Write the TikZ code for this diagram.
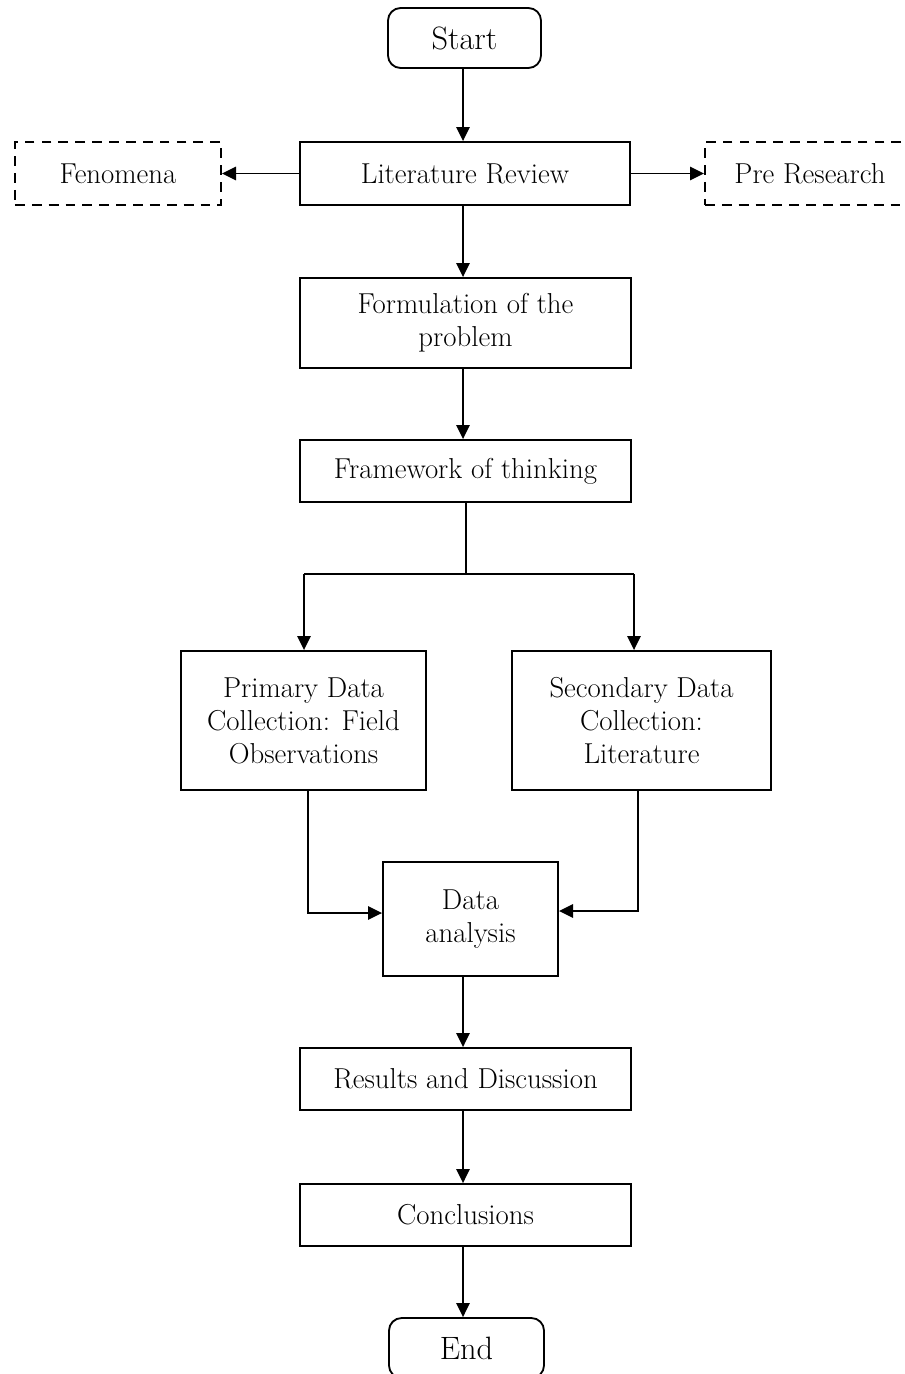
\documentclass[tikz,border=0pt]{standalone}
\usetikzlibrary{arrows.meta}
\begin{document}
\begin{tikzpicture}[x=0.025cm,y=-0.025cm,
  every node/.style={font=\fontsize{20.5}{23.4}\selectfont, align=center, inner sep=0pt},
  box/.style={draw, line width=1.3pt, rectangle},
  dbox/.style={draw, line width=1.3pt, rectangle, dashed, dash pattern=on 7pt off 5pt},
  term/.style={draw, line width=1.3pt, rectangle, rounded corners=9pt, font=\fontsize{23}{26}\selectfont},
  conn/.style={line width=1.3pt},
  arr/.style={line width=1.3pt, -{Triangle[length=10pt,width=9.5pt]}}]
\useasboundingbox (0,0) rectangle (904,1374);
\node[term, minimum width=3.825cm, minimum height=1.5cm] (start) at (464.5,38) {Start};
\node[box, minimum width=8.25cm, minimum height=1.575cm] (lit) at (465,173.5) {Literature Review};
\node[dbox, minimum width=5.15cm, minimum height=1.575cm] (fen) at (118,173.5) {Fenomena};
\node[dbox, minimum width=5.25cm, minimum height=1.575cm] (pre) at (810,173.5) {Pre Research};
\node[box, minimum width=8.275cm, minimum height=2.25cm] (form) at (465.5,323) {Formulation of the\\problem};
\node[box, minimum width=8.275cm, minimum height=1.55cm] (frame) at (465.5,471) {Framework of thinking};
\node[box, minimum width=6.125cm, minimum height=3.475cm] (prim) at (303.5,720.5) {Primary Data\\Collection: Field\\Observations};
\node[box, minimum width=6.475cm, minimum height=3.475cm] (sec) at (641.5,720.5) {Secondary Data\\Collection:\\Literature};
\node[box, minimum width=4.375cm, minimum height=2.85cm] (data) at (470.5,919) {Data\\analysis};
\node[box, minimum width=8.275cm, minimum height=1.55cm] (res) at (465.5,1079) {Results and Discussion};
\node[box, minimum width=8.275cm, minimum height=1.55cm] (conc) at (465.5,1215) {Conclusions};
\node[term, minimum width=3.875cm, minimum height=1.5cm] (end) at (466.5,1348) {End};
\coordinate (split) at (466,574);
\coordinate (sl) at (304,574);
\coordinate (sr) at (634,574);
\draw[arr] (start.south -| 463,0) -- (lit.north -| 463,0);
\draw[arr] (lit.west) -- (fen.east);
\draw[arr] (lit.east) -- (pre.west);
\draw[arr] (lit.south -| 463,0) -- (form.north -| 463,0);
\draw[arr] (form.south -| 463,0) -- (frame.north -| 463,0);
\draw[conn] (frame.south -| split) -- (split);
\draw[conn] (sl) -- (sr);
\draw[arr] (sl) -- (sl |- prim.north);
\draw[arr] (sr) -- (sr |- sec.north);
\coordinate (pb) at (308,0);
\coordinate (sb) at (638,0);
\coordinate (dl) at (0,913);
\coordinate (dr) at (0,911);
\draw[arr] (pb |- prim.south) -- (pb |- dl) -- (data.west |- dl);
\draw[arr] (sb |- sec.south) -- (sb |- dr) -- (data.east |- dr);
\draw[arr] (data.south -| 463,0) -- (res.north -| 463,0);
\draw[arr] (res.south -| 463,0) -- (conc.north -| 463,0);
\draw[arr] (conc.south -| 463,0) -- (end.north -| 463,0);
\end{tikzpicture}
\end{document}
